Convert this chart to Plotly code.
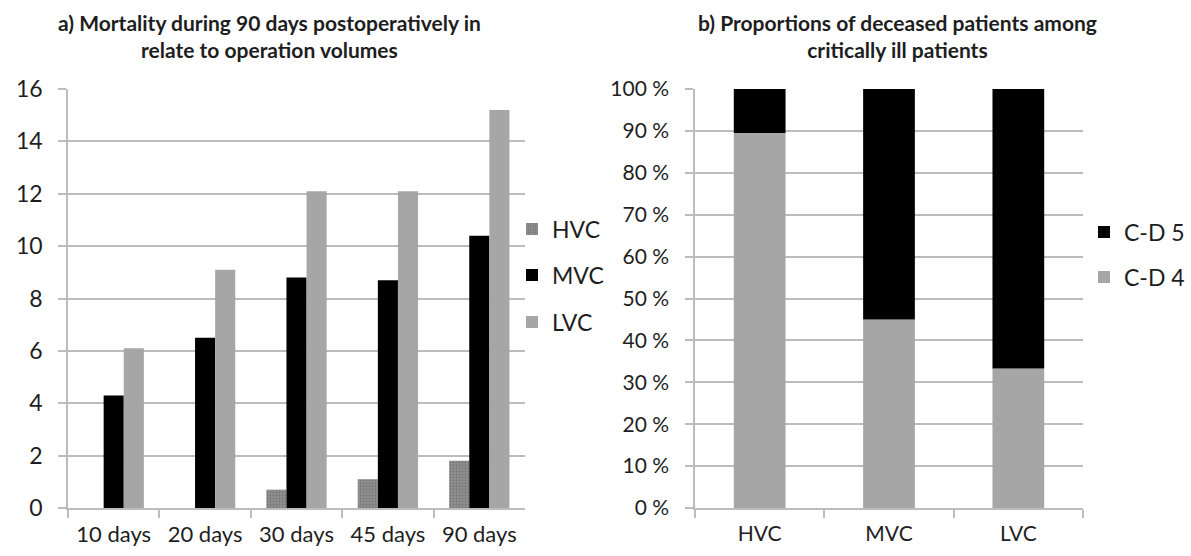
import plotly.graph_objects as go

W, H = 1191, 556

# Panel a data
periods = ["10 days", "20 days", "30 days", "45 days", "90 days"]
hvc = [0, 0, 0.7, 1.1, 1.8]
mvc = [4.3, 6.5, 8.8, 8.7, 10.4]
lvc = [6.1, 9.1, 12.1, 12.1, 15.2]

# Panel b data (percent)
centres = ["HVC", "MVC", "LVC"]
cd4 = [89.5, 45.0, 33.3]
cd5 = [10.5, 55.0, 66.7]

FONT = "Lato, 'Open Sans', sans-serif"
GRID = "#bcbcbc"
DARK = "#000000"
LIGHT = "#a6a6a6"
TXT = "#1e1e1e"

def px(x):
    return x / W

def py(y):
    return 1 - y / H

fig = go.Figure()

fig.add_trace(go.Bar(x=periods, y=hvc, name="HVC", xaxis="x", yaxis="y",
                     marker=dict(color="#808080",
                                 pattern=dict(shape=".", fgcolor="#5a5a5a", bgcolor="#959595",
                                              size=3, solidity=0.45),
                                 line=dict(width=0)),
                     legend="legend"))
fig.add_trace(go.Bar(x=periods, y=mvc, name="MVC", xaxis="x", yaxis="y",
                     marker=dict(color=DARK, line=dict(width=0)), legend="legend2"))
fig.add_trace(go.Bar(x=periods, y=lvc, name="LVC", xaxis="x", yaxis="y",
                     marker=dict(color=LIGHT, line=dict(width=0)), legend="legend3"))

fig.add_trace(go.Bar(x=centres, y=cd4, name="C-D 4", xaxis="x2", yaxis="y2",
                     offsetgroup="b", width=0.4,
                     marker=dict(color=LIGHT, line=dict(width=0)), legend="legend5"))
fig.add_trace(go.Bar(x=centres, y=cd5, name="C-D 5", xaxis="x2", yaxis="y2",
                     offsetgroup="b", base=cd4, width=0.4,
                     marker=dict(color=DARK, line=dict(width=0)), legend="legend4"))

axis_common = dict(showline=True, linecolor=GRID, linewidth=1.5,
                   ticks="outside", ticklen=8, tickcolor=GRID, tickwidth=1.5,
                   automargin=False, fixedrange=True)

ydom = [py(508), py(89)]

def leg(xp, yp, size=23):
    return dict(x=px(xp), y=py(yp), xanchor="left", yanchor="middle",
                xref="paper", yref="paper", bgcolor="rgba(0,0,0,0)",
                font=dict(family=FONT, size=size, color=TXT),
                itemwidth=30, borderwidth=0, tracegroupgap=0)

fig.update_layout(
    width=W, height=H,
    margin=dict(l=0, r=0, t=0, b=0),
    paper_bgcolor="white", plot_bgcolor="white",
    font=dict(family=FONT, color=TXT),
    barmode="group",
    bargap=0.34, bargroupgap=0,
    xaxis=dict(domain=[px(68), px(525)], anchor="y", tickson="boundaries",
               tickfont=dict(size=22), ticklabelstandoff=6, **axis_common),
    yaxis=dict(domain=ydom, anchor="x", range=[0, 16], dtick=2,
               showgrid=True, gridcolor=GRID, gridwidth=1.5,
               tickfont=dict(size=23), ticklabelstandoff=11, **axis_common),
    xaxis2=dict(domain=[px(695), px(1083)], anchor="y2", tickson="boundaries",
                tickfont=dict(size=21), ticklabelstandoff=6, **axis_common),
    yaxis2=dict(domain=ydom, anchor="x2", range=[0, 100], dtick=10,
                ticksuffix=" %", showgrid=True, gridcolor=GRID, gridwidth=1.5,
                tickfont=dict(size=21), ticklabelstandoff=12, **axis_common),
    legend=leg(512, 229),
    legend2=leg(512, 275),
    legend3=leg(512, 322),
    legend4=leg(1084, 232),
    legend5=leg(1084, 277),
    showlegend=True,
    annotations=[
        dict(text="<b>a) Mortality during 90 days postoperatively in<br>relate to operation volumes</b>",
             x=px(269), y=py(36), xref="paper", yref="paper", showarrow=False,
             xanchor="center", yanchor="middle", align="center",
             font=dict(family=FONT, size=21, color=TXT)),
        dict(text="<b>b) Proportions of deceased patients among<br>critically ill patients</b>",
             x=px(897), y=py(36), xref="paper", yref="paper", showarrow=False,
             xanchor="center", yanchor="middle", align="center",
             font=dict(family=FONT, size=21, color=TXT)),
    ],
)

fig.write_html("out.html")
